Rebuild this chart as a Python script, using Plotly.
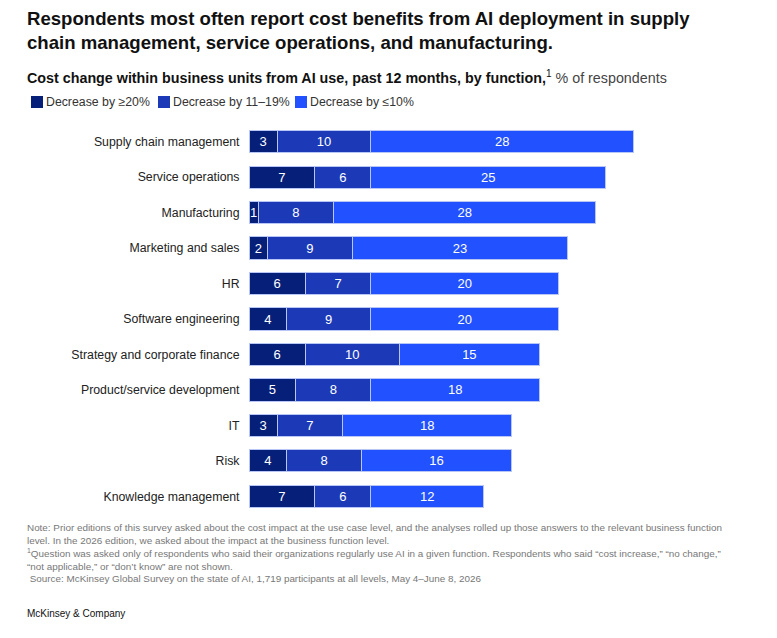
import plotly.graph_objects as go

functions = [
    "Supply chain management", "Service operations", "Manufacturing",
    "Marketing and sales", "HR", "Software engineering",
    "Strategy and corporate finance", "Product/service development",
    "IT", "Risk", "Knowledge management",
]
decrease_20_plus = [3, 7, 1, 2, 6, 4, 6, 5, 3, 4, 7]
decrease_11_19 = [10, 6, 8, 9, 7, 9, 10, 8, 7, 8, 6]
decrease_10_less = [28, 25, 28, 23, 20, 20, 15, 18, 18, 16, 12]

series = [
    ("Decrease by ≥20%", decrease_20_plus, "#061F79"),
    ("Decrease by 11–19%", decrease_11_19, "#1C3AB8"),
    ("Decrease by ≤10%", decrease_10_less, "#2251FF"),
]

FONT = "Liberation Sans"
# the page adds an 8px body margin, so the plot area is placed 8px up/left
L, T, PW, PH = 241, 116, 422, 390


def px_x(x):
    # page pixel -> paper x
    return (x - 8 - L) / PW


def px_y(y):
    # page pixel -> paper y
    return 1 - (y - 8 - T) / PH


fig = go.Figure()
for name, vals, color in series:
    fig.add_trace(go.Bar(
        y=functions, x=vals, name=name, orientation="h",
        marker=dict(color=color, line=dict(color="#B8C6F5", width=1)),
        text=vals, textposition="inside", insidetextanchor="middle",
        textfont=dict(color="white", size=13, family=FONT),
        showlegend=False,
    ))

fig.update_layout(
    barmode="stack", bargap=0.37,
    width=769, height=630,
    margin=dict(l=L, r=769 - L - PW, t=T, b=630 - T - PH),
    paper_bgcolor="white", plot_bgcolor="white",
    font=dict(family=FONT, color="#222222"),
    uniformtext=dict(minsize=12, mode="show"),
)
fig.update_xaxes(range=[0, 45], visible=False)
fig.update_yaxes(autorange="reversed", showgrid=False, showline=False,
                 ticks="outside", ticklen=6, tickcolor="white",
                 tickfont=dict(size=12.3, color="#222222"))

# title and subtitle
fig.add_annotation(
    xref="paper", yref="paper", x=px_x(25), y=px_y(6), xanchor="left", yanchor="top",
    text="<b>Respondents most often report cost benefits from AI deployment in supply<br>"
         "chain management, service operations, and manufacturing.</b>",
    showarrow=False, align="left", font=dict(size=18.6, color="#111111", family=FONT),
)
fig.add_annotation(
    xref="paper", yref="paper", x=px_x(25), y=px_y(66), xanchor="left", yanchor="top",
    text="<b>Cost change within business units from AI use, past 12 months, by function,</b>"
         "<sup>1</sup> <span style='color:#444444'>% of respondents</span>",
    showarrow=False, align="left", font=dict(size=14.3, color="#111111", family=FONT),
)

# legend
legend_x = [31, 158, 295]
for (name, _, color), lx in zip(series, legend_x):
    fig.add_shape(type="rect", xref="paper", yref="paper",
                  x0=px_x(lx), x1=px_x(lx + 12),
                  y0=px_y(108), y1=px_y(96),
                  fillcolor=color, line=dict(width=0))
    fig.add_annotation(xref="paper", yref="paper", x=px_x(lx + 13), y=px_y(102),
                       xanchor="left", yanchor="middle", text=name, showarrow=False,
                       font=dict(size=12.3, color="#333333", family=FONT))

notes = (
    "Note: Prior editions of this survey asked about the cost impact at the use case level, and the analyses rolled up those answers to the relevant business function<br>"
    "level. In the 2026 edition, we asked about the impact at the business function level.<br>"
    "<sup>1</sup>Question was asked only of respondents who said their organizations regularly use AI in a given function. Respondents who said \u201ccost increase,\u201d \u201cno change,\u201d<br>"
    "\u201cnot applicable,\u201d or \u201cdon\u2019t know\u201d are not shown.<br>"
    " Source: McKinsey Global Survey on the state of AI, 1,719 participants at all levels, May 4\u2013June 8, 2026"
)
fig.add_annotation(
    xref="paper", yref="paper", x=px_x(25), y=px_y(520), xanchor="left", yanchor="top",
    text=notes, showarrow=False, align="left",
    font=dict(size=9.9, color="#777777", family=FONT),
)
fig.add_annotation(
    xref="paper", yref="paper", x=px_x(25), y=px_y(606), xanchor="left", yanchor="top",
    text="McKinsey & Company", showarrow=False, align="left",
    font=dict(size=10, color="#111111", family=FONT),
)

fig.write_html("out.html")
